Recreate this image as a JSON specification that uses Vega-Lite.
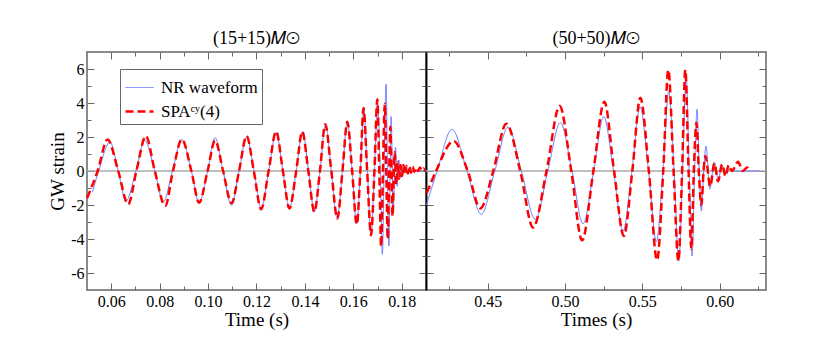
{
  "$schema": "https://vega.github.io/schema/vega-lite/v6.json",
  "padding": {"left": 47, "top": 28, "right": 5, "bottom": 5},
  "spacing": 0,
  "bounds": "flush",
  "datasets": {
    "left": [
      {"t":0.0523,"v":-1.22,"s":"NR waveform"},{"t":0.0548,"v":0,"s":"NR waveform"},{"t":0.0595,"v":1.7,"s":"NR waveform"},{"t":0.0629,"v":0,"s":"NR waveform"},{"t":0.0661,"v":-1.76,"s":"NR waveform"},{"t":0.0702,"v":0,"s":"NR waveform"},{"t":0.0738,"v":1.8,"s":"NR waveform"},{"t":0.078,"v":0,"s":"NR waveform"},{"t":0.0815,"v":-1.82,"s":"NR waveform"},{"t":0.0853,"v":0,"s":"NR waveform"},{"t":0.0892,"v":1.86,"s":"NR waveform"},{"t":0.0931,"v":0,"s":"NR waveform"},{"t":0.0963,"v":-1.86,"s":"NR waveform"},{"t":0.0998,"v":0,"s":"NR waveform"},{"t":0.1029,"v":1.96,"s":"NR waveform"},{"t":0.1062,"v":0,"s":"NR waveform"},{"t":0.1097,"v":-2.0,"s":"NR waveform"},{"t":0.1128,"v":0,"s":"NR waveform"},{"t":0.1159,"v":2.0,"s":"NR waveform"},{"t":0.119,"v":0,"s":"NR waveform"},{"t":0.1219,"v":-2.2,"s":"NR waveform"},{"t":0.125,"v":0,"s":"NR waveform"},{"t":0.1281,"v":2.25,"s":"NR waveform"},{"t":0.1309,"v":0,"s":"NR waveform"},{"t":0.1336,"v":-2.2,"s":"NR waveform"},{"t":0.1364,"v":0,"s":"NR waveform"},{"t":0.139,"v":2.3,"s":"NR waveform"},{"t":0.1415,"v":0,"s":"NR waveform"},{"t":0.1439,"v":-2.4,"s":"NR waveform"},{"t":0.1462,"v":0,"s":"NR waveform"},{"t":0.1485,"v":2.7,"s":"NR waveform"},{"t":0.1509,"v":0,"s":"NR waveform"},{"t":0.1533,"v":-2.78,"s":"NR waveform"},{"t":0.1555,"v":0,"s":"NR waveform"},{"t":0.1575,"v":2.88,"s":"NR waveform"},{"t":0.1595,"v":0,"s":"NR waveform"},{"t":0.1614,"v":-3.1,"s":"NR waveform"},{"t":0.1629,"v":0,"s":"NR waveform"},{"t":0.1643,"v":3.65,"s":"NR waveform"},{"t":0.1658,"v":0,"s":"NR waveform"},{"t":0.1673,"v":-3.75,"s":"NR waveform"},{"t":0.1687,"v":0,"s":"NR waveform"},{"t":0.17,"v":4.0,"s":"NR waveform"},{"t":0.1711,"v":0,"s":"NR waveform"},{"t":0.172,"v":-4.9,"s":"NR waveform"},{"t":0.1727,"v":0,"s":"NR waveform"},{"t":0.1735,"v":5.1,"s":"NR waveform"},{"t":0.1741,"v":0,"s":"NR waveform"},{"t":0.1747,"v":-4.4,"s":"NR waveform"},{"t":0.1752,"v":0,"s":"NR waveform"},{"t":0.1756,"v":3.2,"s":"NR waveform"},{"t":0.1761,"v":0,"s":"NR waveform"},{"t":0.1765,"v":-2.35,"s":"NR waveform"},{"t":0.177,"v":0,"s":"NR waveform"},{"t":0.1774,"v":1.4,"s":"NR waveform"},{"t":0.1781,"v":-0.9,"s":"NR waveform"},{"t":0.1788,"v":0.65,"s":"NR waveform"},{"t":0.1794,"v":-0.4,"s":"NR waveform"},{"t":0.18,"v":0.25,"s":"NR waveform"},{"t":0.1806,"v":-0.15,"s":"NR waveform"},{"t":0.1815,"v":0.05,"s":"NR waveform"},{"t":0.183,"v":0,"s":"NR waveform"},{"t":0.19,"v":0,"s":"NR waveform"},
      {"t":0.05,"v":-1.6,"s":"SPAᶜʸ(4)"},{"t":0.0544,"v":0,"s":"SPAᶜʸ(4)"},{"t":0.0585,"v":1.86,"s":"SPAᶜʸ(4)"},{"t":0.0629,"v":0,"s":"SPAᶜʸ(4)"},{"t":0.067,"v":-1.96,"s":"SPAᶜʸ(4)"},{"t":0.0704,"v":0,"s":"SPAᶜʸ(4)"},{"t":0.0743,"v":2.06,"s":"SPAᶜʸ(4)"},{"t":0.078,"v":0,"s":"SPAᶜʸ(4)"},{"t":0.0823,"v":-2.06,"s":"SPAᶜʸ(4)"},{"t":0.0855,"v":0,"s":"SPAᶜʸ(4)"},{"t":0.0892,"v":1.86,"s":"SPAᶜʸ(4)"},{"t":0.0931,"v":0,"s":"SPAᶜʸ(4)"},{"t":0.0963,"v":-1.86,"s":"SPAᶜʸ(4)"},{"t":0.0998,"v":0,"s":"SPAᶜʸ(4)"},{"t":0.1029,"v":1.8,"s":"SPAᶜʸ(4)"},{"t":0.1062,"v":0,"s":"SPAᶜʸ(4)"},{"t":0.1097,"v":-1.9,"s":"SPAᶜʸ(4)"},{"t":0.1128,"v":0,"s":"SPAᶜʸ(4)"},{"t":0.1159,"v":2.06,"s":"SPAᶜʸ(4)"},{"t":0.1189,"v":0,"s":"SPAᶜʸ(4)"},{"t":0.1219,"v":-2.25,"s":"SPAᶜʸ(4)"},{"t":0.125,"v":0,"s":"SPAᶜʸ(4)"},{"t":0.1281,"v":2.33,"s":"SPAᶜʸ(4)"},{"t":0.1309,"v":0,"s":"SPAᶜʸ(4)"},{"t":0.1336,"v":-2.2,"s":"SPAᶜʸ(4)"},{"t":0.1364,"v":0,"s":"SPAᶜʸ(4)"},{"t":0.1389,"v":2.32,"s":"SPAᶜʸ(4)"},{"t":0.1414,"v":0,"s":"SPAᶜʸ(4)"},{"t":0.1439,"v":-2.4,"s":"SPAᶜʸ(4)"},{"t":0.1462,"v":0,"s":"SPAᶜʸ(4)"},{"t":0.1484,"v":2.75,"s":"SPAᶜʸ(4)"},{"t":0.1509,"v":0,"s":"SPAᶜʸ(4)"},{"t":0.1534,"v":-2.8,"s":"SPAᶜʸ(4)"},{"t":0.1555,"v":0,"s":"SPAᶜʸ(4)"},{"t":0.1575,"v":2.9,"s":"SPAᶜʸ(4)"},{"t":0.1595,"v":0,"s":"SPAᶜʸ(4)"},{"t":0.1614,"v":-3.14,"s":"SPAᶜʸ(4)"},{"t":0.1629,"v":0,"s":"SPAᶜʸ(4)"},{"t":0.1642,"v":3.7,"s":"SPAᶜʸ(4)"},{"t":0.1657,"v":0,"s":"SPAᶜʸ(4)"},{"t":0.1673,"v":-3.78,"s":"SPAᶜʸ(4)"},{"t":0.1687,"v":0,"s":"SPAᶜʸ(4)"},{"t":0.1699,"v":4.22,"s":"SPAᶜʸ(4)"},{"t":0.1707,"v":0,"s":"SPAᶜʸ(4)"},{"t":0.1715,"v":-4.45,"s":"SPAᶜʸ(4)"},{"t":0.1722,"v":0,"s":"SPAᶜʸ(4)"},{"t":0.173,"v":3.95,"s":"SPAᶜʸ(4)"},{"t":0.1736,"v":0,"s":"SPAᶜʸ(4)"},{"t":0.1742,"v":-4.0,"s":"SPAᶜʸ(4)"},{"t":0.1748,"v":0,"s":"SPAᶜʸ(4)"},{"t":0.1753,"v":2.6,"s":"SPAᶜʸ(4)"},{"t":0.1757,"v":0,"s":"SPAᶜʸ(4)"},{"t":0.1762,"v":-2.65,"s":"SPAᶜʸ(4)"},{"t":0.1767,"v":0,"s":"SPAᶜʸ(4)"},{"t":0.1771,"v":1.1,"s":"SPAᶜʸ(4)"},{"t":0.1777,"v":-0.8,"s":"SPAᶜʸ(4)"},{"t":0.1783,"v":0.55,"s":"SPAᶜʸ(4)"},{"t":0.1789,"v":-0.45,"s":"SPAᶜʸ(4)"},{"t":0.1795,"v":0.35,"s":"SPAᶜʸ(4)"},{"t":0.1801,"v":-0.3,"s":"SPAᶜʸ(4)"},{"t":0.1807,"v":0.35,"s":"SPAᶜʸ(4)"},{"t":0.1813,"v":-0.2,"s":"SPAᶜʸ(4)"},{"t":0.1819,"v":0.3,"s":"SPAᶜʸ(4)"},{"t":0.1825,"v":-0.15,"s":"SPAᶜʸ(4)"},{"t":0.1832,"v":0.3,"s":"SPAᶜʸ(4)"},{"t":0.1838,"v":-0.1,"s":"SPAᶜʸ(4)"},{"t":0.1845,"v":0.25,"s":"SPAᶜʸ(4)"},{"t":0.1852,"v":-0.05,"s":"SPAᶜʸ(4)"},{"t":0.186,"v":0.2,"s":"SPAᶜʸ(4)"},{"t":0.1867,"v":0,"s":"SPAᶜʸ(4)"},{"t":0.1875,"v":0.2,"s":"SPAᶜʸ(4)"},{"t":0.1883,"v":0.02,"s":"SPAᶜʸ(4)"},{"t":0.189,"v":0.15,"s":"SPAᶜʸ(4)"},{"t":0.1897,"v":0,"s":"SPAᶜʸ(4)"},{"t":0.19,"v":0.05,"s":"SPAᶜʸ(4)"}
    ],
    "right": [
      {"t":0.4103,"v":-2.0,"s":"NR waveform"},{"t":0.4172,"v":0,"s":"NR waveform"},{"t":0.4268,"v":2.45,"s":"NR waveform"},{"t":0.4365,"v":0,"s":"NR waveform"},{"t":0.4458,"v":-2.55,"s":"NR waveform"},{"t":0.4545,"v":0,"s":"NR waveform"},{"t":0.4631,"v":2.59,"s":"NR waveform"},{"t":0.4717,"v":0,"s":"NR waveform"},{"t":0.4807,"v":-2.84,"s":"NR waveform"},{"t":0.4888,"v":0,"s":"NR waveform"},{"t":0.4969,"v":2.84,"s":"NR waveform"},{"t":0.5045,"v":0,"s":"NR waveform"},{"t":0.5116,"v":-3.1,"s":"NR waveform"},{"t":0.5185,"v":0,"s":"NR waveform"},{"t":0.525,"v":3.2,"s":"NR waveform"},{"t":0.5313,"v":0,"s":"NR waveform"},{"t":0.5375,"v":-3.53,"s":"NR waveform"},{"t":0.5432,"v":0,"s":"NR waveform"},{"t":0.5485,"v":3.76,"s":"NR waveform"},{"t":0.554,"v":0,"s":"NR waveform"},{"t":0.5591,"v":-4.16,"s":"NR waveform"},{"t":0.5633,"v":0,"s":"NR waveform"},{"t":0.5671,"v":4.67,"s":"NR waveform"},{"t":0.5705,"v":0,"s":"NR waveform"},{"t":0.5736,"v":-5.3,"s":"NR waveform"},{"t":0.576,"v":0,"s":"NR waveform"},{"t":0.5783,"v":5.59,"s":"NR waveform"},{"t":0.5803,"v":0,"s":"NR waveform"},{"t":0.5822,"v":-5.0,"s":"NR waveform"},{"t":0.5838,"v":0,"s":"NR waveform"},{"t":0.5854,"v":3.63,"s":"NR waveform"},{"t":0.5868,"v":0,"s":"NR waveform"},{"t":0.5882,"v":-2.35,"s":"NR waveform"},{"t":0.5897,"v":0,"s":"NR waveform"},{"t":0.5912,"v":1.47,"s":"NR waveform"},{"t":0.5936,"v":-1.06,"s":"NR waveform"},{"t":0.5966,"v":0.53,"s":"NR waveform"},{"t":0.599,"v":-0.5,"s":"NR waveform"},{"t":0.6016,"v":0.3,"s":"NR waveform"},{"t":0.604,"v":-0.2,"s":"NR waveform"},{"t":0.6065,"v":0.08,"s":"NR waveform"},{"t":0.61,"v":0,"s":"NR waveform"},{"t":0.626,"v":0,"s":"NR waveform"},
      {"t":0.4105,"v":-1.3,"s":"SPAᶜʸ(4)"},{"t":0.4165,"v":0,"s":"SPAᶜʸ(4)"},{"t":0.4279,"v":1.76,"s":"SPAᶜʸ(4)"},{"t":0.437,"v":0,"s":"SPAᶜʸ(4)"},{"t":0.4452,"v":-2.2,"s":"SPAᶜʸ(4)"},{"t":0.4535,"v":0,"s":"SPAᶜʸ(4)"},{"t":0.462,"v":2.78,"s":"SPAᶜʸ(4)"},{"t":0.471,"v":0,"s":"SPAᶜʸ(4)"},{"t":0.4793,"v":-3.33,"s":"SPAᶜʸ(4)"},{"t":0.488,"v":0,"s":"SPAᶜʸ(4)"},{"t":0.4965,"v":3.82,"s":"SPAᶜʸ(4)"},{"t":0.504,"v":0,"s":"SPAᶜʸ(4)"},{"t":0.511,"v":-4.08,"s":"SPAᶜʸ(4)"},{"t":0.5183,"v":0,"s":"SPAᶜʸ(4)"},{"t":0.5254,"v":4.08,"s":"SPAᶜʸ(4)"},{"t":0.5317,"v":0,"s":"SPAᶜʸ(4)"},{"t":0.538,"v":-3.82,"s":"SPAᶜʸ(4)"},{"t":0.5435,"v":0,"s":"SPAᶜʸ(4)"},{"t":0.5487,"v":4.31,"s":"SPAᶜʸ(4)"},{"t":0.5542,"v":0,"s":"SPAᶜʸ(4)"},{"t":0.5595,"v":-5.25,"s":"SPAᶜʸ(4)"},{"t":0.5635,"v":0,"s":"SPAᶜʸ(4)"},{"t":0.5668,"v":5.95,"s":"SPAᶜʸ(4)"},{"t":0.5702,"v":0,"s":"SPAᶜʸ(4)"},{"t":0.5733,"v":-5.3,"s":"SPAᶜʸ(4)"},{"t":0.5757,"v":0,"s":"SPAᶜʸ(4)"},{"t":0.5778,"v":5.95,"s":"SPAᶜʸ(4)"},{"t":0.5799,"v":0,"s":"SPAᶜʸ(4)"},{"t":0.5817,"v":-4.6,"s":"SPAᶜʸ(4)"},{"t":0.5833,"v":0,"s":"SPAᶜʸ(4)"},{"t":0.585,"v":2.84,"s":"SPAᶜʸ(4)"},{"t":0.5865,"v":0,"s":"SPAᶜʸ(4)"},{"t":0.5882,"v":-2.0,"s":"SPAᶜʸ(4)"},{"t":0.5896,"v":0,"s":"SPAᶜʸ(4)"},{"t":0.5908,"v":0.88,"s":"SPAᶜʸ(4)"},{"t":0.5939,"v":-0.9,"s":"SPAᶜʸ(4)"},{"t":0.5966,"v":0.45,"s":"SPAᶜʸ(4)"},{"t":0.599,"v":-0.6,"s":"SPAᶜʸ(4)"},{"t":0.6016,"v":0.4,"s":"SPAᶜʸ(4)"},{"t":0.6038,"v":-0.3,"s":"SPAᶜʸ(4)"},{"t":0.6059,"v":0.35,"s":"SPAᶜʸ(4)"},{"t":0.608,"v":0,"s":"SPAᶜʸ(4)"},{"t":0.6119,"v":0.55,"s":"SPAᶜʸ(4)"},{"t":0.615,"v":0,"s":"SPAᶜʸ(4)"},{"t":0.6178,"v":0.2,"s":"SPAᶜʸ(4)"},{"t":0.6193,"v":0,"s":"SPAᶜʸ(4)"}
    ]
  },
  "hconcat": [
    {
      "width": 339, "height": 238,
      "title": "(15+15)𝑀⊙",
      "data": {"name": "left"},
      "layer": [
        {"data": {"values": [{}]}, "mark": {"type": "rule", "color": "#aaaaaa", "strokeWidth": 1.5},
         "encoding": {"y": {"datum": 0, "type": "quantitative", "scale": {"domain": [-7, 7], "nice": false}, "axis": null}}},
        {"mark": {"type": "line", "interpolate": "monotone"},
         "encoding": {
           "x": {"field": "t", "type": "quantitative", "scale": {"domain": [0.05, 0.19], "nice": false, "zero": false},
                 "axis": {"orient": "bottom", "values": [0.06, 0.08, 0.1, 0.12, 0.14, 0.16, 0.18], "format": ".2f", "labelFont": "Liberation Serif", "tickSize": -7, "labelPadding": 10, "title": "Time (s)", "titlePadding": 1}},
           "y": {"field": "v", "type": "quantitative", "scale": {"domain": [-7, 7], "nice": false},
                 "axis": {"orient": "left", "values": [-6, -4, -2, 0, 2, 4, 6], "labelExpr": "'' + datum.value", "labelFont": "Liberation Serif", "tickSize": -7, "labelPadding": 10, "title": "GW strain", "titlePadding": 3, "minExtent": 0}},
           "color": {"field": "s", "type": "nominal", "scale": {"domain": ["NR waveform", "SPAᶜʸ(4)"], "range": ["#6677ff", "#ff0000"]},
                     "legend": {"orient": "none", "legendX": 33, "legendY": 17, "title": null, "symbolType": "stroke", "symbolSize": 784, "labelFont": "Liberation Serif", "labelFontSize": 17, "labelColor": "#000000", "strokeColor": "#666666", "fillColor": "#ffffff", "padding": 4, "rowPadding": 0, "labelOffset": 6}},
           "strokeDash": {"field": "s", "type": "nominal", "scale": {"domain": ["NR waveform", "SPAᶜʸ(4)"], "range": [[1, 0], [8, 4]]}},
           "strokeWidth": {"field": "s", "type": "nominal", "scale": {"domain": ["NR waveform", "SPAᶜʸ(4)"], "range": [1, 2.5]}}
         }},
        {"mark": {"type": "point", "opacity": 0},
         "encoding": {
           "x": {"field": "t", "type": "quantitative", "axis": {"orient": "top", "values": [0.06, 0.08, 0.1, 0.12, 0.14, 0.16, 0.18], "labels": false, "tickSize": -7, "title": null}},
           "y": {"field": "v", "type": "quantitative", "axis": {"orient": "right", "values": [-6, -4, -2, 0, 2, 4, 6], "labels": false, "tickSize": -7, "title": null, "domain": true, "domainColor": "#000000", "domainWidth": 1.5}}
         }},
        {"mark": {"type": "point", "opacity": 0},
         "encoding": {
           "x": {"field": "t", "type": "quantitative", "axis": {"orient": "bottom", "values": [0.07, 0.09, 0.11, 0.13, 0.15, 0.17], "labels": false, "tickSize": -4, "title": null}},
           "y": {"field": "v", "type": "quantitative", "axis": {"orient": "left", "values": [-5, -3, -1, 1, 3, 5], "labels": false, "tickSize": -4, "title": null}}
         }},
        {"mark": {"type": "point", "opacity": 0},
         "encoding": {
           "x": {"field": "t", "type": "quantitative", "axis": {"orient": "top", "values": [0.07, 0.09, 0.11, 0.13, 0.15, 0.17], "labels": false, "tickSize": -4, "title": null}},
           "y": {"field": "v", "type": "quantitative", "axis": {"orient": "right", "values": [-5, -3, -1, 1, 3, 5], "labels": false, "tickSize": -4, "title": null}}
         }}
      ],
      "resolve": {"axis": {"x": "independent", "y": "independent"}}
    },
    {
      "width": 340, "height": 238,
      "title": "(50+50)𝑀⊙",
      "data": {"name": "right"},
      "layer": [
        {"data": {"values": [{}]}, "mark": {"type": "rule", "color": "#aaaaaa", "strokeWidth": 1.5},
         "encoding": {"y": {"datum": 0, "type": "quantitative", "scale": {"domain": [-7, 7], "nice": false}, "axis": null}}},
        {"mark": {"type": "line", "interpolate": "monotone"},
         "encoding": {
           "x": {"field": "t", "type": "quantitative", "scale": {"domain": [0.41, 0.63], "nice": false, "zero": false},
                 "axis": {"orient": "bottom", "values": [0.45, 0.5, 0.55, 0.6], "format": ".2f", "labelFont": "Liberation Serif", "tickSize": -7, "labelPadding": 10, "title": "Times (s)", "titlePadding": 1}},
           "y": {"field": "v", "type": "quantitative", "scale": {"domain": [-7, 7], "nice": false},
                 "axis": {"orient": "left", "values": [-6, -4, -2, 0, 2, 4, 6], "labels": false, "tickSize": -7, "title": null, "domain": true, "domainColor": "#000000", "domainWidth": 1.5}},
           "color": {"field": "s", "type": "nominal", "scale": {"domain": ["NR waveform", "SPAᶜʸ(4)"], "range": ["#6677ff", "#ff0000"]}, "legend": null},
           "strokeDash": {"field": "s", "type": "nominal", "scale": {"domain": ["NR waveform", "SPAᶜʸ(4)"], "range": [[1, 0], [8, 4]]}, "legend": null},
           "strokeWidth": {"field": "s", "type": "nominal", "scale": {"domain": ["NR waveform", "SPAᶜʸ(4)"], "range": [1, 2.5]}, "legend": null}
         }},
        {"mark": {"type": "point", "opacity": 0},
         "encoding": {
           "x": {"field": "t", "type": "quantitative", "axis": {"orient": "top", "values": [0.45, 0.5, 0.55, 0.6], "labels": false, "tickSize": -7, "title": null}},
           "y": {"field": "v", "type": "quantitative", "axis": {"orient": "right", "values": [-6, -4, -2, 0, 2, 4, 6], "labels": false, "tickSize": -7, "title": null}}
         }},
        {"mark": {"type": "point", "opacity": 0},
         "encoding": {
           "x": {"field": "t", "type": "quantitative", "axis": {"orient": "bottom", "values": [0.425, 0.475, 0.525, 0.575, 0.625], "labels": false, "tickSize": -4, "title": null}},
           "y": {"field": "v", "type": "quantitative", "axis": {"orient": "left", "values": [-5, -3, -1, 1, 3, 5], "labels": false, "tickSize": -4, "title": null}}
         }},
        {"mark": {"type": "point", "opacity": 0},
         "encoding": {
           "x": {"field": "t", "type": "quantitative", "axis": {"orient": "top", "values": [0.425, 0.475, 0.525, 0.575, 0.625], "labels": false, "tickSize": -4, "title": null}},
           "y": {"field": "v", "type": "quantitative", "axis": {"orient": "right", "values": [-5, -3, -1, 1, 3, 5], "labels": false, "tickSize": -4, "title": null}}
         }}
      ],
      "resolve": {"axis": {"x": "independent", "y": "independent"}}
    }
  ],
  "resolve": {"scale": {"color": "independent", "strokeDash": "independent", "strokeWidth": "independent"}},
  "config": {
    "font": "Liberation Serif",
    "view": {"stroke": "#666666", "strokeWidth": 1.5},
    "style": {"guide-label": {"font": "Liberation Serif"}, "guide-title": {"font": "Liberation Serif"}},
    "axis": {"labelFont": "Liberation Serif", "labelFontSize": 16, "labelColor": "#000000", "titleFont": "Liberation Serif", "titleFontSize": 19, "titleFontWeight": "normal", "titleColor": "#000000", "tickColor": "#666666", "tickWidth": 1, "domain": false, "grid": false, "minExtent": 0},
    "title": {"font": "Liberation Serif", "fontSize": 18, "fontWeight": "normal", "offset": 4, "color": "#000000"}
  }
}
